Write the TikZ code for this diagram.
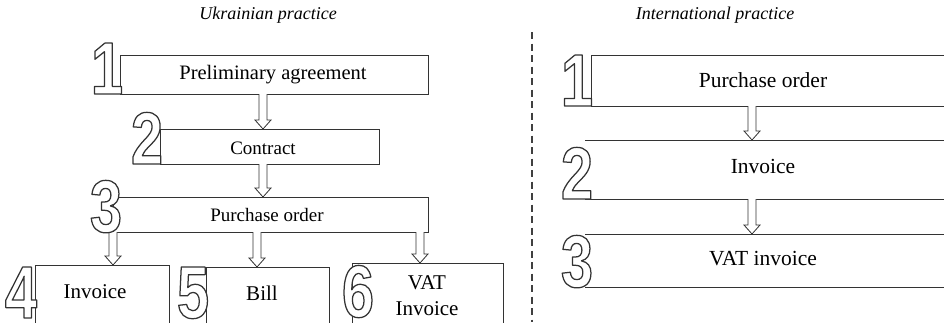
\documentclass[tikz,border=0pt]{standalone}
\usepackage{fontspec}
\setmainfont{Liberation Serif}
\newfontfamily\numfont[FakeStretch=0.78]{Liberation Sans}
\usetikzlibrary{calc}
\tikzset{
  boxline/.style={draw=black!80, line width=0.9pt},
  arrowline/.style={draw=black!80, line width=0.8pt, fill=white, line join=miter},
  digitfont/.style={font=\numfont\bfseries\fontsize{74}{74}\selectfont, inner sep=0pt, anchor=base, text=white},
  lbl/.style={inner sep=0pt, align=center},
  title/.style={inner sep=0pt, font=\itshape\fontsize{18}{20}\selectfont}
}
\newcommand\outlined[1]{\special{pdf:literal direct 2 Tr 1.25 w 0.2 G 1 j}#1\special{pdf:literal direct 0 Tr}}
\newcommand\outdigit[3]{%
  \node[digitfont] (#3) at (#1) {\outlined{#2}};}
\newcommand\hollowarrow[2]{%
  \draw[arrowline] ($(#1)+(-4,0)$) -- ($(#2)+(-4,-9)$) -- ($(#2)+(-8,-9)$) -- (#2)
     -- ($(#2)+(8,-9)$) -- ($(#2)+(4,-9)$) -- ($(#1)+(4,0)$);}
\begin{document}
\begin{tikzpicture}[x=1pt,y=-1pt]
\useasboundingbox (0,0) rectangle (944,322);
\clip (0,0) rectangle (944,322);
\fill[white] (0,0) rectangle (944,322);
% titles
\node[title] (tl) at (268,15) {Ukrainian practice};
\node[title] (tr) at (715,15) {International practice};
% divider
\coordinate (dtop) at (532,32);
\coordinate (dbot) at (532,322);
\draw[black!75, line width=1.4pt, dash pattern=on 7pt off 4.5pt] (dtop) -- (dbot);
% left boxes
\draw[boxline] (120,55) rectangle (428,94);
\draw[boxline] (160,129) rectangle (379,164);
\draw[boxline] (113,197) rectangle (428,232);
\draw[boxline] (35,265) rectangle (169,340);
\draw[boxline] (206,267) rectangle (329,340);
\draw[boxline] (352,263) rectangle (503,340);
\node[lbl, font=\fontsize{20.5}{24}\selectfont] (L1) at (273,75) {Preliminary agreement};
\node[lbl, font=\fontsize{19}{22}\selectfont] (L2) at (263,148) {Contract};
\node[lbl, font=\fontsize{19}{22}\selectfont] (L3) at (267,215) {Purchase order};
\node[lbl, font=\fontsize{21}{26}\selectfont] (L4) at (95,292) {Invoice};
\node[lbl, font=\fontsize{21}{26}\selectfont] (L5) at (262,293) {Bill};
\node[lbl, font=\fontsize{21}{26}\selectfont] (L6) at (427,296) {VAT\\Invoice};
% right boxes
\draw[boxline] (591,55) -- (950,55) (591,106) -- (950,106) (591,55) -- (591,106);
\draw[boxline] (585,140) -- (950,140) (585,199) -- (950,199);
\draw[boxline] (585,234) -- (950,234) (585,287) -- (950,287);
\node[lbl, font=\fontsize{21.5}{26}\selectfont] (R1) at (763,80) {Purchase order};
\node[lbl, font=\fontsize{21.5}{26}\selectfont] (R2) at (763,166) {Invoice};
\node[lbl, font=\fontsize{21.5}{26}\selectfont] (R3) at (763,259) {VAT invoice};
% arrows
\coordinate (a12s) at (263,94);  \coordinate (a12e) at (263,129);
\coordinate (a23s) at (263,164); \coordinate (a23e) at (263,197);
\coordinate (a34s) at (113,232); \coordinate (a34e) at (113,265);
\coordinate (a35s) at (257,232); \coordinate (a35e) at (257,267);
\coordinate (a36s) at (420,232); \coordinate (a36e) at (420,263);
\coordinate (r12s) at (752,106); \coordinate (r12e) at (752,140);
\coordinate (r23s) at (752,199); \coordinate (r23e) at (752,234);
\hollowarrow{a12s}{a12e}
\hollowarrow{a23s}{a23e}
\hollowarrow{a34s}{a34e}
\hollowarrow{a35s}{a35e}
\hollowarrow{a36s}{a36e}
\hollowarrow{r12s}{r12e}
\hollowarrow{r23s}{r23e}
% digits
\outdigit{107,94}{1}{d1}
\outdigit{147,164}{2}{d2}
\outdigit{106,232}{3}{d3}
\outdigit{21,318}{4}{d4}
\outdigit{193,318}{5}{d5}
\outdigit{358,317}{6}{d6}
\outdigit{577,106}{1}{e1}
\outdigit{577,199}{2}{e2}
\outdigit{577,287}{3}{e3}
\end{tikzpicture}
\end{document}
